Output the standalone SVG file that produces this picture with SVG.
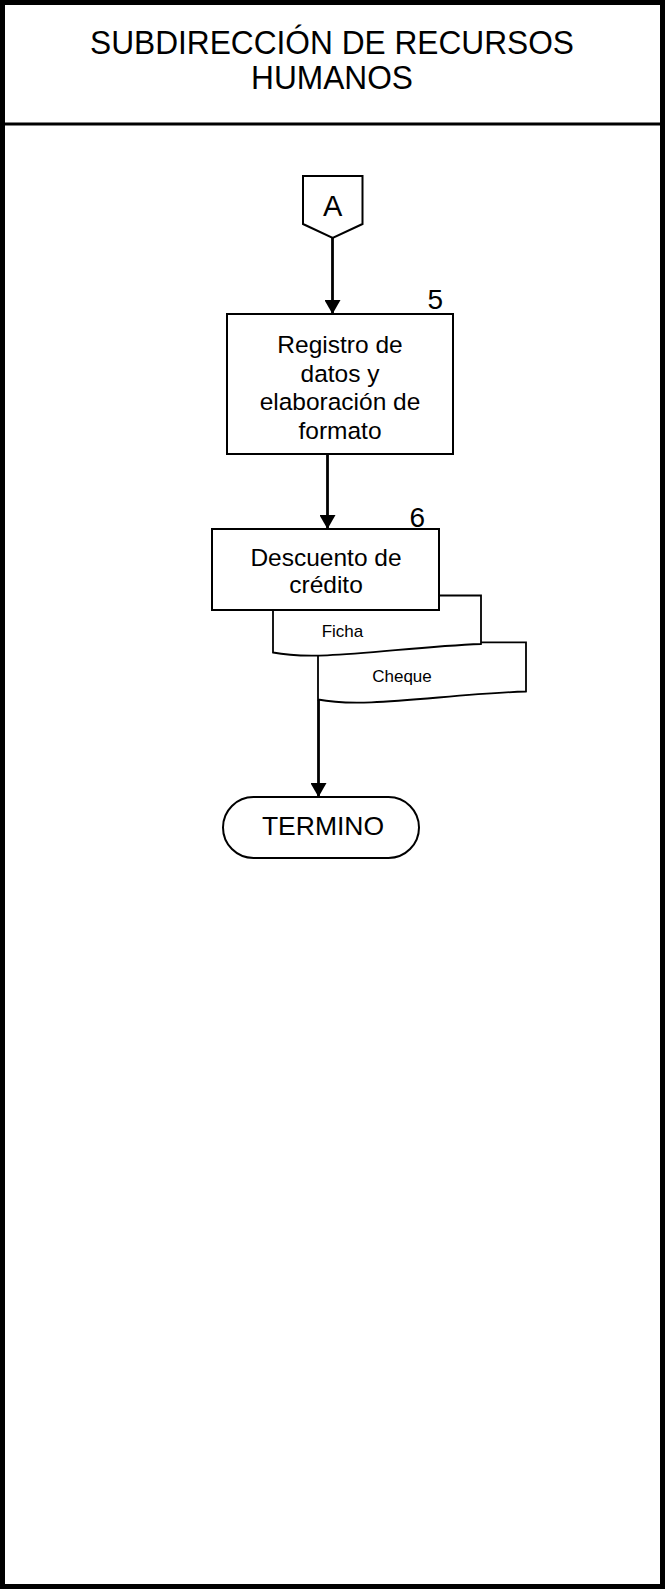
<svg xmlns="http://www.w3.org/2000/svg" width="665" height="1589" viewBox="0 0 665 1589">
<style>
text{font-family:"Liberation Sans",Arial,sans-serif;fill:#000}
.box{fill:#fff;stroke:#000;stroke-width:2}
.doc{fill:#fff;stroke:#000;stroke-width:1.8}
.conn{fill:none;stroke:#000;stroke-width:2.8}
.t24{font-size:24.5px;text-anchor:middle}
.t17{font-size:17px;text-anchor:middle}
.num{font-size:28px;text-anchor:end}
.hd{font-size:34px;text-anchor:middle}
</style>
<defs>
<marker id="arr" markerUnits="userSpaceOnUse" markerWidth="15" markerHeight="16" refX="14" refY="8" orient="auto">
<path d="M0,0 L14,8 L0,16 z" fill="#000"/>
</marker>
</defs>
<rect width="665" height="1589" fill="#fff"/>
<g id="frame">
<rect x="2.5" y="2.5" width="660" height="1584" fill="none" stroke="#000" stroke-width="5"/>
<line x1="0" y1="124" x2="665" y2="124" stroke="#000" stroke-width="3"/>
<text class="hd" x="332" y="54" textLength="484" lengthAdjust="spacingAndGlyphs">SUBDIRECCIÓN DE RECURSOS</text>
<text class="hd" x="332" y="89" textLength="162" lengthAdjust="spacingAndGlyphs">HUMANOS</text>
</g>
<g id="connectors">
<line class="conn" x1="332.5" y1="238" x2="332.5" y2="314" marker-end="url(#arr)"/>
<line class="conn" x1="327.5" y1="454" x2="327.5" y2="529" marker-end="url(#arr)"/>
<line class="conn" x1="318.5" y1="700" x2="318.5" y2="797" marker-end="url(#arr)"/>
</g>
<g id="nodeA">
<path class="box" d="M303,176 H362.5 V224 L332.7,238 L303,224 Z"/>
<text x="332.7" y="216" style="font-size:29px;text-anchor:middle">A</text>
</g>
<g id="node5">
<rect class="box" x="227" y="314" width="226" height="140"/>
<text class="num" x="443" y="309">5</text>
<text class="t24" x="340" y="353">Registro de</text>
<text class="t24" x="340" y="381.5">datos y</text>
<text class="t24" x="340" y="410">elaboración de</text>
<text class="t24" x="340" y="438.5">formato</text>
</g>
<g id="docCheque">
<path class="doc" d="M318,642.3 H526 V691.5 C445,694 365,709 318,699.5 Z"/>
<text class="t17" x="402" y="682">Cheque</text>
</g>
<g id="docFicha">
<path class="doc" d="M273,595.5 H481 V644 C400,647 320,662 273,652.5 Z"/>
<text class="t17" x="342.5" y="637">Ficha</text>
</g>
<g id="node6">
<rect class="box" x="212" y="529" width="227" height="81"/>
<text class="num" x="425" y="527">6</text>
<text class="t24" x="326" y="566">Descuento de</text>
<text class="t24" x="326" y="593">crédito</text>
</g>
<g id="termino">
<rect class="box" x="223" y="797" width="196" height="61" rx="30.5" ry="30.5"/>
<text x="323" y="835" style="font-size:26.5px;text-anchor:middle">TERMINO</text>
</g>
</svg>
